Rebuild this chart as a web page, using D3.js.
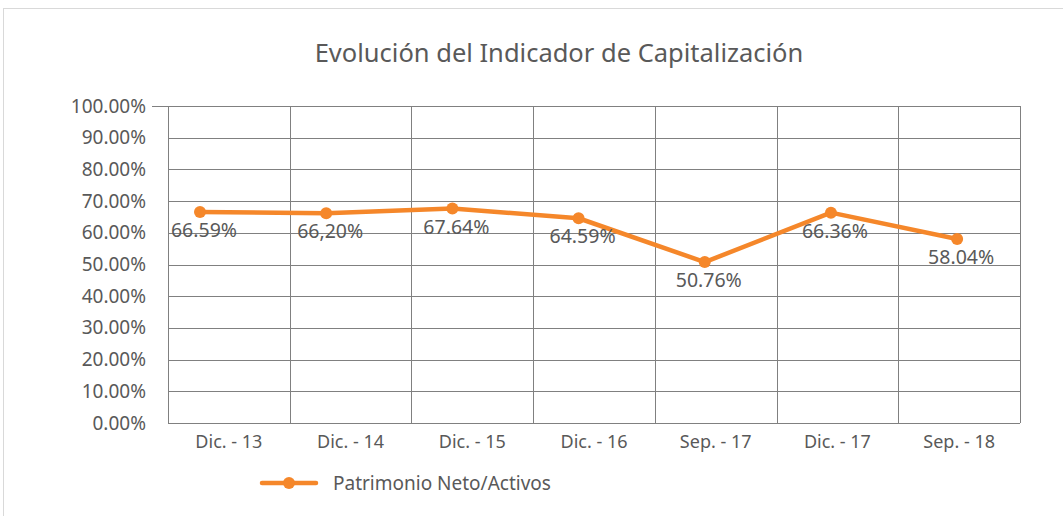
<!DOCTYPE html>
<html>
<head>
<meta charset="utf-8">
<script src="https://cdn.jsdelivr.net/npm/d3@7"></script>
<style>
  body { margin: 0; background: #fff; }
  text { font-family: "Noto Sans", sans-serif; fill: #595959; }
</style>
</head>
<body>
<div id="chart"></div>
<script>
const categories = ["Dic. - 13", "Dic. - 14", "Dic. - 15", "Dic. - 16", "Sep. - 17", "Dic. - 17", "Sep. - 18"];
const values = [66.59, 66.20, 67.64, 64.59, 50.76, 66.36, 58.04];
const valueLabels = ["66.59%", "66,20%", "67.64%", "64.59%", "50.76%", "66.36%", "58.04%"];
const yTicks = [0, 10, 20, 30, 40, 50, 60, 70, 80, 90, 100];
const seriesName = "Patrimonio Neto/Activos";
const title = "Evolución del Indicador de Capitalización";

const width = 1063, height = 516,
  margin = { top: 106, bottom: 93, left: 168, right: 43 },
  orange = "#f5872a", grid = "#808080";

const svg = d3.select("#chart")
  .append("svg")
  .attr("width", width)
  .attr("height", height);

// outer frame of the chart area
svg.append("rect")
  .attr("x", 3.5).attr("y", 8.5)
  .attr("width", width + 20).attr("height", height + 20)
  .attr("fill", "none")
  .attr("stroke", "#d9d9d9");

svg.append("text")
  .attr("x", 559).attr("y", 62)
  .attr("text-anchor", "middle")
  .attr("font-size", 25.5)
  .text(title);

const x = d3.scaleBand()
  .domain(categories)
  .range([margin.left, width - margin.right]);

// points sit a bit left of the band centres in the original
const xPt = d3.scalePoint()
  .domain(categories)
  .range([x(categories[0]) + 32, x(categories[6]) + x.bandwidth() / 2 - 2]);

const y = d3.scaleLinear()
  .domain([0, 100])
  .range([height - margin.bottom, margin.top]);

// horizontal gridlines
svg.append("g")
  .selectAll("line")
  .data(yTicks)
  .join("line")
  .attr("x1", d => d === 100 ? margin.left - 16 : margin.left)
  .attr("x2", width - margin.right)
  .attr("y1", d => Math.round(y(d)) + 0.5)
  .attr("y2", d => Math.round(y(d)) + 0.5)
  .attr("stroke", grid);

// vertical gridlines
svg.append("g")
  .selectAll("line")
  .data(d3.range(categories.length + 1))
  .join("line")
  .attr("x1", i => Math.round(margin.left + i * x.step()) + 0.5)
  .attr("x2", i => Math.round(margin.left + i * x.step()) + 0.5)
  .attr("y1", y(100))
  .attr("y2", y(0))
  .attr("stroke", grid);

// y labels
svg.append("g")
  .selectAll("text")
  .data(yTicks)
  .join("text")
  .attr("x", 146)
  .attr("y", d => y(d) + 6.5)
  .attr("text-anchor", "end")
  .attr("font-size", 19)
  .text(d => d.toFixed(2) + "%");

// x labels
svg.append("g")
  .selectAll("text")
  .data(categories)
  .join("text")
  .attr("x", d => x(d) + x.bandwidth() / 2)
  .attr("y", 448)
  .attr("text-anchor", "middle")
  .attr("font-size", 18)
  .text(d => d);

const line = d3.line()
  .x((d, i) => xPt(categories[i]))
  .y(d => y(d));

svg.append("path")
  .datum(values)
  .attr("d", line)
  .attr("fill", "none")
  .attr("stroke", orange)
  .attr("stroke-width", 4.5)
  .attr("stroke-linejoin", "round");

svg.append("g")
  .selectAll("circle")
  .data(values)
  .join("circle")
  .attr("cx", (d, i) => xPt(categories[i]))
  .attr("cy", d => y(d))
  .attr("r", 6)
  .attr("fill", orange);

svg.append("g")
  .selectAll("text")
  .data(values)
  .join("text")
  .attr("x", (d, i) => xPt(categories[i]) + 4)
  .attr("y", d => y(d) + 25)
  .attr("text-anchor", "middle")
  .attr("font-size", 19.5)
  .text((d, i) => valueLabels[i]);

// legend
const legend = svg.append("g").attr("transform", "translate(262,483)");
legend.append("line")
  .attr("x1", 0).attr("x2", 54)
  .attr("stroke", orange)
  .attr("stroke-width", 4.5)
  .attr("stroke-linecap", "round");
legend.append("circle")
  .attr("cx", 27).attr("r", 6)
  .attr("fill", orange);
legend.append("text")
  .attr("x", 71).attr("y", 6.5)
  .attr("font-size", 19)
  .text(seriesName);
</script>
</body>
</html>
